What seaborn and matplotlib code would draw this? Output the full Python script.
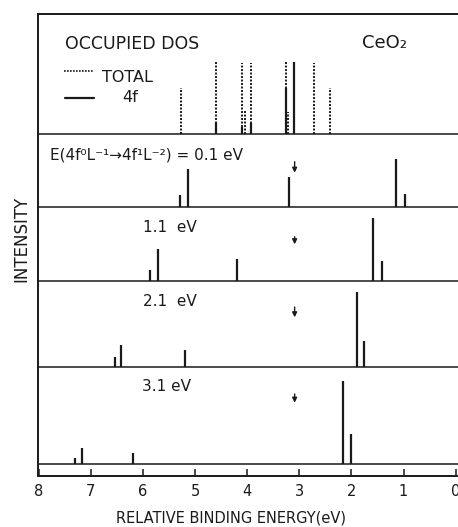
import matplotlib
matplotlib.use("Agg")
import matplotlib.pyplot as plt
import seaborn as sns
import pandas as pd

# ---------------- data ----------------
# Top panel: occupied density of states
total_E = [5.28, 4.59, 4.10, 4.05, 3.92, 3.26, 3.21, 3.11, 2.72, 2.42]
total_I = [46, 72, 71, 24, 71, 72, 22, 72, 71, 46]
f4_E = [5.28, 4.59, 4.10, 3.92, 3.26, 3.11]
f4_I = [2, 12, 7, 11, 46, 72]

# Spectra for the four charge-transfer energies
labels = ["E(4f\u2070L\u207b\u00b9\u21924f\u00b9L\u207b\u00b2) = 0.1 eV", "1.1  eV", "2.1  eV", "3.1 eV"]
spec_E = [
    [5.29, 5.14, 3.19, 1.14, 0.97],
    [5.87, 5.71, 4.20, 1.58, 1.42],
    [6.54, 6.42, 5.19, 1.89, 1.76],
    [7.31, 7.18, 6.20, 2.16, 2.01],
]
spec_I = [
    [12, 37.7, 29.7, 47.7, 13],
    [11, 32, 22, 62.7, 20],
    [10, 22, 16.7, 74.4, 26],
    [5.7, 15.7, 11.3, 83.3, 29.7],
]
arrow_E = 3.09
xticks = [8, 7, 6, 5, 4, 3, 2, 1, 0]

# ---------------- layout ----------------
top_base = 342
bases = [269, 195, 109.3, 12]
label_y = [321, 248, 174.3, 89.3]
label_x = [7.785, 5.995, 6.0, 6.02]
arrow_top = [314.3, 239.3, 169, 82]
arrow_bot = [303.3, 231.7, 158.7, 73.3]

sns.set_theme(style="ticks")
plt.rcParams["font.family"] = ["DejaVu Sans"]
plt.rcParams["text.color"] = "k"
plt.rcParams["axes.labelcolor"] = "k"
plt.rcParams["xtick.color"] = "k"

fig = plt.figure(figsize=(4.58, 5.27), dpi=100)
W, H = 458, 527
ax = fig.add_axes([37.7 / W, (H - 476) / H, (W - 37.7) / W + 0.01, 462 / H])
ax.set_xlim(8.021, -0.045 - 0.01 * W / 52.11)
ax.set_ylim(0, 462)

# long-form frames for the spectra
df_top_total = pd.DataFrame({"E": total_E, "I": total_I})
df_top_f = pd.DataFrame({"E": f4_E, "I": f4_I})
frames = []
for k in range(4):
    frames.append(pd.DataFrame({"E": spec_E[k], "I": spec_I[k], "panel": k}))
df = pd.concat(frames, ignore_index=True)

# panel baselines
for b in [top_base] + bases:
    ax.axhline(b, color="k", lw=1.1)

# top panel
ax.vlines(df_top_total["E"], top_base, top_base + df_top_total["I"], colors="k",
          lw=1.4, linestyles=(0, (1, 0.8)))
ax.vlines(df_top_f["E"], top_base, top_base + df_top_f["I"], colors="k", lw=1.6)
ax.text(7.50, 432, "OCCUPIED DOS", fontsize=12.5, va="center", ha="left", color="k")
ax.text(1.797, 433, "CeO\u2082", fontsize=13, va="center", ha="left", color="k")
# legend
ax.plot([7.516, 6.94], [405.3, 405.3], color="k", lw=1.2, ls=(0, (1, 0.8)))
ax.text(6.787, 398.5, "TOTAL", fontsize=11.5, va="center", ha="left", color="k")
ax.plot([7.50, 6.94], [378.3, 378.3], color="k", lw=1.6)
ax.text(6.40, 378.5, "4f", fontsize=11.5, va="center", ha="left", color="k")

# spectra panels
for k in range(4):
    sub = df[df["panel"] == k]
    ax.vlines(sub["E"], bases[k], bases[k] + sub["I"], colors="k", lw=1.6)
    ax.text(label_x[k], label_y[k], labels[k], fontsize=11, va="center", ha="left", color="k")
    ax.annotate("", xy=(arrow_E, arrow_bot[k]), xytext=(arrow_E, arrow_top[k]),
                arrowprops=dict(arrowstyle="-|>", color="k", lw=1.0,
                                mutation_scale=7, shrinkA=0, shrinkB=0))

# axes styling
sns.despine(ax=ax, top=False, right=True)
for s in ["left", "top", "bottom"]:
    ax.spines[s].set_linewidth(1.4)
    ax.spines[s].set_color("k")
ax.set_yticks([])
ax.set_xticks(xticks)
ax.set_xticklabels([str(t) for t in xticks])
ax.tick_params(axis="x", direction="in", length=5, width=1.1, pad=6,
               labelsize=10.5, colors="k")

fig.text(231 / W, (H - 518) / H, "RELATIVE BINDING ENERGY(eV)", fontsize=10.5,
         ha="center", va="center", color="k")
fig.text(21.5 / W, (H - 239) / H, "INTENSITY", fontsize=12, rotation=90,
         ha="center", va="center", color="k")

fig.savefig("out.png", dpi=100)
